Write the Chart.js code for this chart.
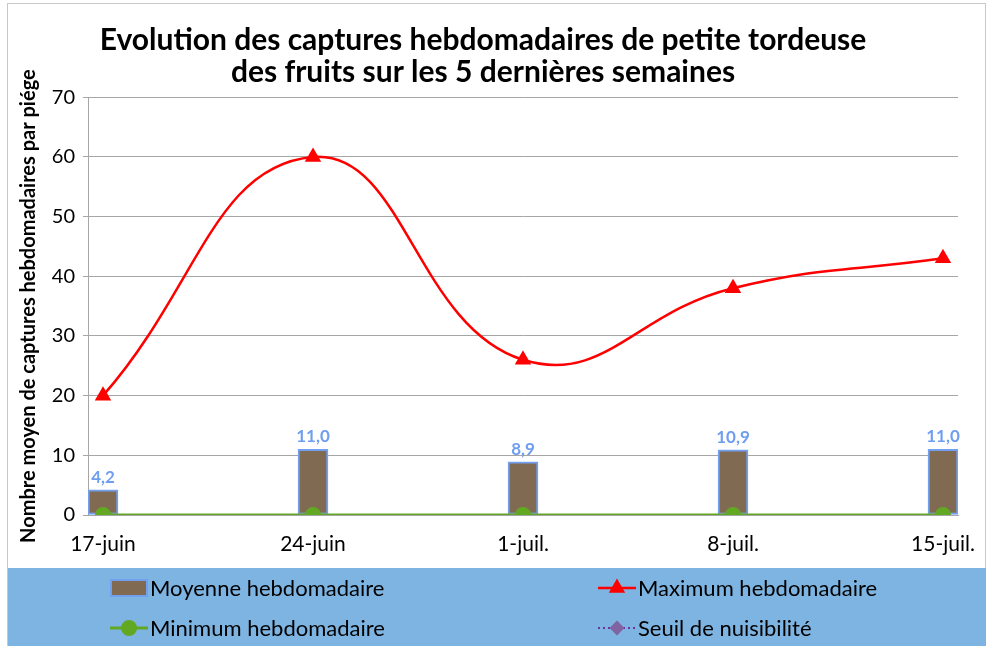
<!DOCTYPE html>
<html lang="fr">
<head>
<meta charset="utf-8">
<title>Captures hebdomadaires de petite tordeuse des fruits</title>
<script src="https://cdn.jsdelivr.net/npm/chart.js@4.4.1/dist/chart.umd.min.js"></script>
<style>
    html, body { margin: 0; padding: 0; background: #ffffff; }
    #wrap { width: 986px; height: 646px; position: relative; }
</style>
</head>
<body>
<div id="wrap"><canvas id="capturesChart" width="986" height="646"></canvas></div>
<script>
// Weekly data
const weeks = ['17-juin', '24-juin', '1-juil.', '8-juil.', '15-juil.'];
const moyenne = [4.2, 11.0, 8.9, 10.9, 11.0];
const maximum = [20, 60, 26, 38, 43];
const minimum = [0, 0, 0, 0, 0];
const seuil = [null, null, null, null, null];
const yTicks = [0, 10, 20, 30, 40, 50, 60, 70];

const FONT = 'Lato, "Liberation Sans", sans-serif';
const toXY = (arr) => arr.map((v, i) => ({ x: i, y: v }));

// value labels above the bars ("4,2", "11,0" ...)
const barLabels = {
    id: 'barLabels',
    afterDatasetsDraw(chart) {
        const ctx = chart.ctx;
        chart.data.datasets.forEach((ds, di) => {
            if (ds.type !== 'bar') return;
            const meta = chart.getDatasetMeta(di);
            ctx.save();
            ctx.font = 'bold 17px ' + FONT;
            ctx.fillStyle = '#6f9ef0';
            ctx.textAlign = 'center';
            ctx.textBaseline = 'bottom';
            meta.data.forEach((bar, i) => {
                const txt = ds.data[i].y.toFixed(1).replace('.', ',');
                ctx.fillText(txt, bar.x, bar.y - 4);
            });
            ctx.restore();
        });
    }
};

// frame + blue legend band at the bottom
const legendBand = {
    id: 'legendBand',
    beforeDraw(chart) {
        const ctx = chart.ctx;
        ctx.save();
        ctx.fillStyle = '#ffffff';
        ctx.fillRect(0, 0, chart.width, chart.height);
        ctx.strokeStyle = '#c8c8c8';
        ctx.lineWidth = 1;
        ctx.strokeRect(7.5, 3.5, chart.width - 8, chart.height);
        ctx.fillStyle = '#7eb4e1';
        ctx.fillRect(8, 568, chart.width - 8, chart.height - 568);
        ctx.restore();
    },
    afterDraw(chart) {
        const ctx = chart.ctx;
        const slots = [[129, 588], [617, 588], [129, 628], [617, 628]];
        ctx.save();
        ctx.font = '22px ' + FONT;
        ctx.textBaseline = 'middle';
        ctx.textAlign = 'left';
        chart.data.datasets.forEach((ds, i) => {
            const [cx, cy] = slots[i];
            if (ds.type === 'bar') {
                ctx.fillStyle = ds.backgroundColor;
                ctx.strokeStyle = ds.borderColor;
                ctx.lineWidth = 2;
                ctx.fillRect(cx - 18, cy - 8, 36, 16);
                ctx.strokeRect(cx - 18, cy - 8, 36, 16);
            } else {
                ctx.strokeStyle = ds.borderColor;
                ctx.lineWidth = ds.borderWidth;
                ctx.setLineDash(ds.borderDash || []);
                ctx.beginPath();
                ctx.moveTo(cx - 19, cy);
                ctx.lineTo(cx + 19, cy);
                ctx.stroke();
                ctx.setLineDash([]);
                ctx.fillStyle = ds.pointBackgroundColor;
                ctx.strokeStyle = ds.pointBorderColor;
                Chart.helpers.drawPoint(ctx, {
                    pointStyle: ds.pointStyle,
                    radius: ds.pointRadius,
                    rotation: 0,
                    borderWidth: 1
                }, cx, cy);
            }
            ctx.fillStyle = '#000000';
            ctx.fillText(ds.label, cx + 21, cy + 1);
        });
        ctx.restore();
    }
};

const ctx = document.getElementById('capturesChart').getContext('2d');
const capturesChart = new Chart(ctx, {
    type: 'bar',
    data: {
        datasets: [{
            type: 'bar',
            label: 'Moyenne hebdomadaire',
            data: toXY(moyenne),
            backgroundColor: '#806a52',
            borderColor: '#729ff0',
            borderWidth: 2,
            borderSkipped: false,
            barThickness: 30,
            order: 3
        }, {
            type: 'line',
            label: 'Maximum hebdomadaire',
            data: toXY(maximum),
            borderColor: '#ff0000',
            borderWidth: 2.5,
            pointStyle: 'triangle',
            pointRadius: 7,
            pointBackgroundColor: '#ff0000',
            pointBorderColor: '#ff0000',
            tension: 0.45,
            order: 1
        }, {
            type: 'line',
            label: 'Minimum hebdomadaire',
            data: toXY(minimum),
            borderColor: '#62a822',
            borderWidth: 3,
            pointStyle: 'circle',
            pointRadius: 6.5,
            pointBackgroundColor: '#62a822',
            pointBorderColor: '#62a822',
            order: 2
        }, {
            type: 'line',
            label: 'Seuil de nuisibilité',
            data: toXY(seuil),
            borderColor: '#7030a0',
            borderWidth: 2,
            borderDash: [2, 3],
            pointStyle: 'rectRot',
            pointRadius: 6,
            pointBackgroundColor: '#8064a2',
            pointBorderColor: '#8064a2',
            order: 0
        }]
    },
    options: {
        responsive: false,
        animation: false,
        layout: {
            padding: { left: 8, right: 28, top: 0, bottom: 78 }
        },
        plugins: {
            legend: { display: false },
            tooltip: { enabled: false },
            title: {
                display: true,
                text: ['Evolution des captures hebdomadaires de petite tordeuse',
                       'des fruits sur les 5 dernières semaines'],
                color: '#000000',
                font: { family: FONT, size: 30, weight: 'bold', lineHeight: 1.07 },
                padding: { top: 24, bottom: 9 }
            }
        },
        scales: {
            x: {
                type: 'linear',
                offset: false,
                min: -15 / 210,
                max: 4 + 15 / 210,
                afterBuildTicks(scale) {
                    scale.ticks = weeks.map((w, i) => ({ value: i }));
                },
                afterFit(scale) {
                    scale.height = 53;
                },
                grid: { display: false },
                border: { display: true, color: '#a6a6a6', width: 1 },
                ticks: {
                    color: '#000000',
                    font: { family: FONT, size: 21 },
                    padding: 9,
                    maxRotation: 0,
                    callback: (v) => weeks[v]
                }
            },
            y: {
                min: 0,
                max: 70,
                afterBuildTicks(scale) {
                    scale.ticks = yTicks.map((v) => ({ value: v }));
                },
                afterFit(scale) {
                    scale.width = 80;
                },
                grid: {
                    color: '#a6a6a6',
                    lineWidth: 1,
                    tickLength: 5
                },
                border: { display: true, color: '#a6a6a6', width: 1 },
                ticks: {
                    color: '#000000',
                    font: { family: FONT, size: 20 },
                    padding: 8
                },
                title: {
                    display: true,
                    text: 'Nombre moyen de captures hebdomadaires par piége',
                    color: '#000000',
                    font: { family: FONT, size: 20, weight: 'bold' },
                    padding: { top: 9, bottom: 0 }
                }
            }
        }
    },
    plugins: [legendBand, barLabels]
});
</script>
</body>
</html>
